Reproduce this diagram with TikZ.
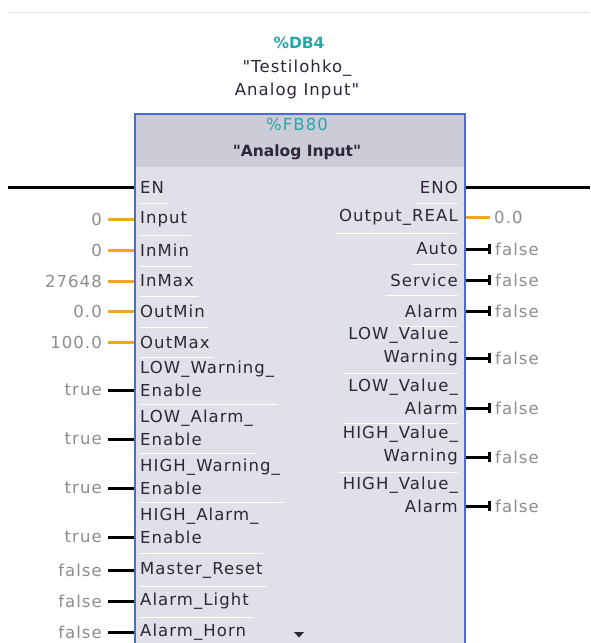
\documentclass[tikz,border=0pt]{standalone}
\usepackage{fontspec}
\setmainfont{DejaVu Sans}[Ligatures=TeXOff]
\newfontfamily\lsf{DejaVu Sans}[Ligatures=TeXOff,LetterSpace=6.5]
\usetikzlibrary{arrows.meta}
\definecolor{tealc}{HTML}{25A8A8}
\definecolor{headc}{HTML}{CBCCD8}
\definecolor{bodyc}{HTML}{DFE0E8}
\definecolor{borderc}{HTML}{4A6FC8}
\definecolor{txtc}{HTML}{2E2638}
\definecolor{valc}{HTML}{8C8C8C}
\definecolor{pinor}{HTML}{F5A51E}
\definecolor{topline}{HTML}{E2E2F0}
\tikzset{
  lbl/.style={anchor=west, inner sep=0pt, text=txtc, font=\lsf\fontsize{16.5}{23}\selectfont, align=left},
  rlbl/.style={anchor=east, inner sep=0pt, text=txtc, font=\lsf\fontsize{16.5}{23}\selectfont, align=right},
  lval/.style={anchor=east, inner sep=0pt, text=valc, font=\lsf\fontsize{16.5}{18}\selectfont},
  rval/.style={anchor=west, inner sep=0pt, text=valc, font=\lsf\fontsize{16.5}{18}\selectfont},
  opin/.style={draw=pinor, line width=3pt},
  bpin/.style={draw=black, line width=3pt},
  tpin/.style={draw=black, line width=3pt, -{Bar[width=10pt,line width=3pt]}},
  sep/.style={draw=white, line width=1pt},
  titl/.style={inner sep=0pt, font=\lsf\fontsize{16.5}{18}\selectfont},
}
\begin{document}
\begin{tikzpicture}[x=1pt,y=-1pt]
\useasboundingbox (0,0) rectangle (590,643);
\draw[topline, line width=1pt] (8,12) -- (590,12);
% titles
\node[titl, text=tealc, font=\fontsize{15.5}{18}\selectfont\bfseries] (db) at (299,43) {\%DB4};
\node[titl, text=txtc, align=center, font=\lsf\fontsize{16.5}{23}\selectfont] (dbname) at (297,79.5) {"Testilohko\_\\Analog Input"};
% block
\fill[bodyc] (135,114) rectangle (465,650);
\fill[headc] (135,114) rectangle (465,167);
\draw[borderc, line width=2.4pt] (135,650) -- (135,114) -- (465,114) -- (465,650);
\node[titl, text=tealc] (fb) at (297,124) {\%FB80};
\node[titl, text=txtc, font=\fontsize{15.5}{18}\selectfont\bfseries] (fbname) at (297,152) {"Analog Input"};
% EN / ENO
\node[lbl] (lEN) at (140,187) {EN};
\node[rlbl] (rENO) at (458,187) {ENO};
\coordinate (wL) at (8,187);
\coordinate (wR) at (590,187);
\draw[bpin] (wL) -- (lEN.west -| 134,0);
\draw[bpin] (rENO.east -| 466,0) -- (wR);
% left labels
\node[lbl] (lInput) at (140,219) {Input};
\node[lbl] (lInMin) at (140,250) {InMin};
\node[lbl] (lInMax) at (140,281) {InMax};
\node[lbl] (lOutMin) at (140,311) {OutMin};
\node[lbl] (lOutMax) at (140,342) {OutMax};
\node[lbl] (lLWE) at (140,378.5) {LOW\_Warning\_\\Enable};
\node[lbl] (lLAE) at (140,427.5) {LOW\_Alarm\_\\Enable};
\node[lbl] (lHWE) at (140,477) {HIGH\_Warning\_\\Enable};
\node[lbl] (lHAE) at (140,525.5) {HIGH\_Alarm\_\\Enable};
\node[lbl] (lMR) at (140,570) {Master\_Reset};
\node[lbl] (lAL) at (140,601) {Alarm\_Light};
\node[lbl] (lAH) at (140,632) {Alarm\_Horn};
% left pins
\foreach \n/\y in {Input/219,InMin/250,InMax/281,OutMin/311,OutMax/342,LWE/390,LAE/439,HWE/488,HAE/537,MR/570,AL/601,AH/632}{
  \coordinate (p\n) at (134,\y);
}
\node[lval] (vInput) at (102,219) {0};
\node[lval] (vInMin) at (102,250) {0};
\node[lval] (vInMax) at (102,281) {27648};
\node[lval] (vOutMin) at (102,311) {0.0};
\node[lval] (vOutMax) at (102,342) {100.0};
\node[lval] (vLWE) at (102,390) {true};
\node[lval] (vLAE) at (102,439) {true};
\node[lval] (vHWE) at (102,488) {true};
\node[lval] (vHAE) at (102,537) {true};
\node[lval] (vMR) at (102,570) {false};
\node[lval] (vAL) at (102,601) {false};
\node[lval] (vAH) at (102,632) {false};
\foreach \n in {Input,InMin,InMax,OutMin,OutMax}{
  \draw[opin, shorten <=6pt] (v\n.east |- p\n) -- (p\n);
}
\foreach \n in {LWE,LAE,HWE,HAE,MR,AL,AH}{
  \draw[bpin, shorten <=6pt] (v\n.east |- p\n) -- (p\n);
}
% right labels
\node[rlbl] (rOR) at (458,217) {Output\_REAL};
\node[rlbl] (rAuto) at (458,249) {Auto};
\node[rlbl] (rServ) at (458,280) {Service};
\node[rlbl] (rAlarm) at (458,311) {Alarm};
\node[rlbl] (rLVW) at (458,346.5) {LOW\_Value\_\\Warning};
\node[rlbl] (rLVA) at (458,396.5) {LOW\_Value\_\\Alarm};
\node[rlbl] (rHVW) at (458,445.5) {HIGH\_Value\_\\Warning};
\node[rlbl] (rHVA) at (458,494.5) {HIGH\_Value\_\\Alarm};
\foreach \n/\y in {OR/217,Auto/249,Serv/280,Alarm/311,LVW/358,LVA/408,HVW/457,HVA/506}{
  \coordinate (q\n) at (466,\y);
}
\node[rval] (wOR) at (494,217) {0.0};
\node[rval] (wAuto) at (495,249) {false};
\node[rval] (wServ) at (495,280) {false};
\node[rval] (wAlarm) at (495,311) {false};
\node[rval] (wLVW) at (495,358) {false};
\node[rval] (wLVA) at (495,408) {false};
\node[rval] (wHVW) at (495,457) {false};
\node[rval] (wHVA) at (495,506) {false};
\draw[opin, shorten >=4pt] (qOR) -- (wOR.west |- qOR);
\foreach \n in {Auto,Serv,Alarm,LVW,LVA,HVW,HVA}{
  \draw[tpin, shorten >=4pt] (q\n) -- (w\n.west |- q\n);
}
% separators left
\foreach \y/\n in {203/EN,235/Input,266/InMin,296/InMax,327/OutMin,357/OutMax,404/LWE,453/LAE,502/HWE,553/HAE,586/MR,617/AL}{
  \draw[sep] (140,\y) -- ([xshift=4pt]l\n.east |- 0,\y);
}
% separators right
\foreach \y/\n in {203/ENO,233/OR,264/Auto,295/Serv,326/Alarm,373/LVW,423/LVA,472/HVW}{
  \draw[sep] ([xshift=-4pt]r\n.west |- 0,\y) -- (458,\y);
}
% scroll triangle
\fill[txtc] (294,632) -- (304,632) -- (299,637.5) -- cycle;
\end{tikzpicture}
\end{document}
